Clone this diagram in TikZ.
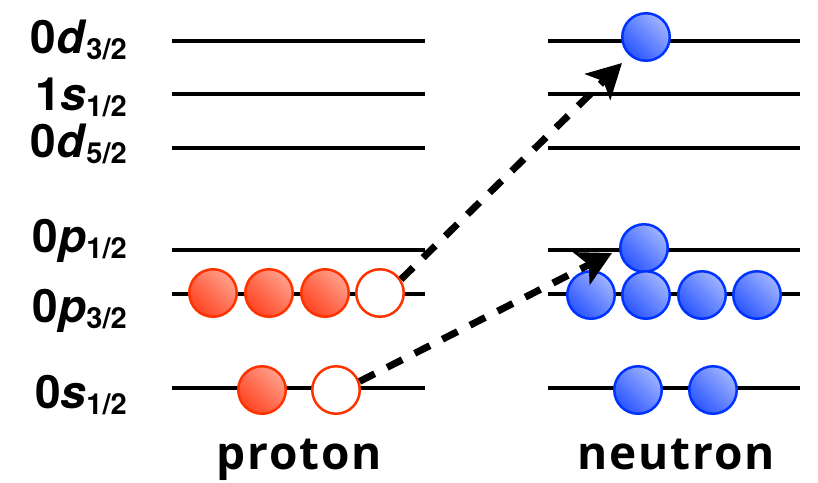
\documentclass[tikz,border=0pt]{standalone}
\usepackage{fontspec}
\setmainfont{TeX Gyre Heros}
\newfontfamily\captfont[LetterSpace=4]{Open Sans}
\usetikzlibrary{arrows.meta}
\definecolor{Pc}{HTML}{FF3300}
\definecolor{PcL}{HTML}{FFA08C}
\definecolor{PcD}{HTML}{FF4422}
\definecolor{Nc}{HTML}{0033FF}
\definecolor{NcL}{HTML}{A0B4FF}
\definecolor{NcD}{HTML}{2A55FF}
\tikzset{
  prot/.style={circle, draw=Pc, line width=2.5pt, inner sep=0pt, minimum size=47.5pt,
    bottom color=PcD, top color=PcL, shading angle=-45},
  hole/.style={circle, draw=Pc, line width=2.5pt, fill=white, inner sep=0pt, minimum size=47.5pt},
  neut/.style={circle, draw=Nc, line width=2.5pt, inner sep=0pt, minimum size=47.5pt,
    bottom color=NcD, top color=NcL, shading angle=-45},
  lvl/.style={line width=4pt},
  jump/.style={-{Stealth[length=34pt, width=36pt, inset=8pt]}, line width=7pt,
    dash pattern=on 17pt off 14pt},
  orb/.style={anchor=base east, inner sep=0pt, font=\fontsize{46}{46}\selectfont\bfseries},
  side/.style={anchor=base, inner sep=0pt, font=\captfont\fontsize{46}{46}\selectfont\bfseries},
}
\newcommand{\orbit}[3]{#1\textit{#2}\raisebox{-6pt}{\fontsize{29}{29}\selectfont #3}}

\begin{document}
\begin{tikzpicture}[x=1pt, y=-1pt]
  \useasboundingbox (0,0) rectangle (818,482);
  % levels
  \foreach \yy in {41,94,148,250,294,388} {
    \draw[lvl] (172,\yy) -- (425,\yy);
    \draw[lvl] (548,\yy) -- (800,\yy);
  }
  % orbit names
  \node[orb] (d3) at (127,53) {\orbit{0}{d}{3/2}};
  \node[orb] (s1b) at (127,110) {\orbit{1}{s}{1/2}};
  \node[orb] (d5) at (127,157) {\orbit{0}{d}{5/2}};
  \node[orb] (p1) at (127,252) {\orbit{0}{p}{1/2}};
  \node[orb] (p3) at (127,322) {\orbit{0}{p}{3/2}};
  \node[orb] (s1) at (127,408) {\orbit{0}{s}{1/2}};
  % protons
  \node[prot] (pp1) at (213,293) {};
  \node[prot] (pp2) at (269,293) {};
  \node[prot] (pp3) at (325,293) {};
  \node[hole] (p3h) at (380,293) {};
  \node[prot] (ps1) at (262,390) {};
  \node[hole] (p1h) at (336,390) {};
  % neutrons
  \node[neut] (nd3) at (646,37) {};
  \node[neut] (np1) at (644,248) {};
  \node[neut] (np3a) at (591,295) {};
  \node[neut] (np3b) at (646,295) {};
  \node[neut] (np3c) at (702,295) {};
  \node[neut] (np3d) at (757,295) {};
  \node[neut] (ns1a) at (638,390) {};
  \node[neut] (ns1b) at (713,390) {};
  % excitations
  \coordinate (t1) at (622,63);
  \coordinate (t2) at (612,253);
  \draw[jump] (p3h.33) -- (t1);
  \draw[jump] (p1h.20) -- (t2);
  \node[side] (prt) at (299,469) {proton};
  \node[side] (neu) at (676,469) {neutron};
\end{tikzpicture}
\end{document}
